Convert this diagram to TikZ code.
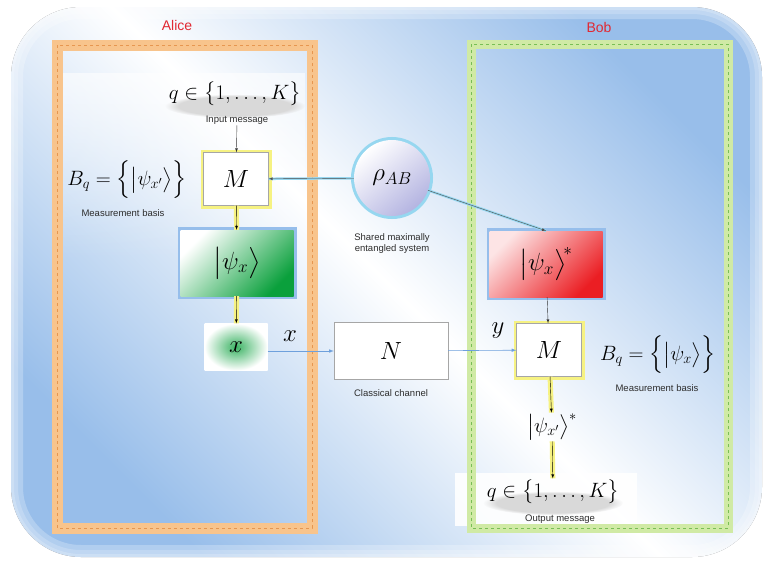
\documentclass[tikz,border=0pt]{standalone}
\usepackage{amsmath, amssymb}
\usepackage{fontspec}
\setsansfont{Liberation Sans}
\usepackage{tikz}
\usetikzlibrary{shapes, arrows, positioning, calc, fadings}
\definecolor{alicered}{RGB}{225, 40, 50}
\definecolor{frameorange}{RGB}{248, 196, 140}
\definecolor{dashorange}{RGB}{230, 150, 80}
\definecolor{framegreen}{RGB}{208, 234, 165}
\definecolor{dashgreen}{RGB}{120, 190, 85}
\definecolor{bgblue}{RGB}{152, 190, 234}
\definecolor{glowyellow}{RGB}{246, 242, 130}
\definecolor{glowblue}{RGB}{150, 190, 235}
\definecolor{stategreen}{RGB}{10, 160, 60}
\definecolor{statered}{RGB}{235, 30, 35}
\definecolor{chanblue}{RGB}{110, 160, 220}
\definecolor{rhocyan}{RGB}{150, 215, 240}
\definecolor{rholav}{RGB}{180, 180, 225}
\definecolor{labelgray}{RGB}{45, 45, 45}

\begin{document}
\begin{tikzpicture}[x=1pt, y=-1pt,
				mbox/.style={draw=gray!70, fill=white, minimum width=65pt, minimum height=53pt, preaction={draw=glowyellow, line width=6pt}, font=\fontsize{26}{30}\selectfont},
				statebox/.style={minimum width=113pt, minimum height=66pt, preaction={draw=glowblue, line width=6pt}, font=\fontsize{26}{30}\selectfont},
				fml/.style={inner sep=1pt, font=\fontsize{21}{25}\selectfont},
				lbl/.style={inner sep=1pt, align=center, text=labelgray, font=\sffamily\fontsize{9.5}{11}\selectfont},
				who/.style={text=alicered, font=\sffamily\fontsize{14}{16}\selectfont},
				flow/.style={-latex, black, thin, preaction={draw=glowyellow, line width=5pt, -}},
				plain/.style={-latex, black!80, thin},
				link/.style={-latex, black!70, thin, preaction={draw=rhocyan, line width=2.5pt, -}},
				chan/.style={-latex, chanblue, semithick}
			]
			\useasboundingbox (0,0) rectangle (765,565);

			% Background
			\fill[rounded corners=70pt, left color=bgblue, right color=bgblue, middle color=white, shading angle=135] (11,7) rectangle (762,557);
			\foreach \w/\o in {24/0.25, 14/0.2, 6/0.2}
				\draw[white, line width=\w pt, opacity=\o, rounded corners=70pt] (11,7) rectangle (762,557);
			\fill[white, opacity=0.6, path fading=south] (63,73) rectangle (305,260);
			\fill[white, opacity=0.9] (455,473) rectangle (637,526);
			\fill[gray!30, path fading=circle with fuzzy edge 20 percent] (235,106) ellipse (70pt and 12pt);
			\fill[gray!30, path fading=circle with fuzzy edge 20 percent] (553,503) ellipse (70pt and 12pt);

			% Frames
			\draw[frameorange, line width=11pt] (57,45) rectangle (312,528);
			\draw[dashorange, dashed, very thin] (57,45) rectangle (312,528);
			\draw[framegreen, line width=9pt] (471,44) rectangle (728,528);
			\draw[dashgreen, dashed, very thin] (471,44) rectangle (728,528);
			\node[who] (alice) at (177,25) {Alice};
			\node[who] (bob) at (599,27) {Bob};

			% Nodes
			\node[fml, font=\fontsize{20}{24}\selectfont] (qin) at (235,94) {$q\in\bigl\{1,\ldots,K\bigr\}$};
			\node[lbl] (inlbl) at (237,120) {Input message};
			\node[mbox] (ma) at (236,179) {$M$};
			\node[fml] (basisa) at (127,180) {$B_q=\Bigl\{\bigl|\psi_{x'}\bigr\rangle\Bigr\}$};
			\node[lbl] (measa) at (123,213) {Measurement basis};
			\node[statebox, left color=white, right color=stategreen, shading angle=45] (psia) at (237,263) {$\bigl|\psi_x\bigr\rangle$};
			\node[minimum width=63pt, minimum height=47pt, shading=radial, inner color=stategreen!80, outer color=white, font=\fontsize{28}{32}\selectfont] (xa) at (236,347) {$x$};
			\node[inner sep=0pt, font=\fontsize{28}{32}\selectfont] (xlbl) at (290,336) {$x$};

			\node[circle, minimum size=76pt, inner sep=0pt, left color=white, right color=rholav, shading angle=40, preaction={draw=rhocyan, line width=6pt}, font=\fontsize{26}{30}\selectfont] (rho) at (392,178) {$\rho_{AB}$};
			\node[lbl, below=16pt of rho] (rholbl) {Shared maximally\\entangled system};
			\node[draw=gray!70, fill=white, minimum width=114pt, minimum height=57pt, font=\fontsize{46}{50}\selectfont] (n) at (391,351) {$N$};
			\node[lbl, below=9pt of n] (nlbl) {Classical channel};

			\node[statebox, left color=statered!12, right color=statered, shading angle=45] (psib) at (546,264) {$\bigl|\psi_x\bigr\rangle^{\!*}$};
			\node[mbox] (mb) at (549,350) {$M$};
			\node[inner sep=0pt, font=\fontsize{28}{32}\selectfont] (ylbl) at (498,331) {$y$};
			\node[fml] (basisb) at (658,355) {$B_q=\Bigl\{\bigl|\psi_{x}\bigr\rangle\Bigr\}$};
			\node[lbl] (measb) at (657,388) {Measurement basis};
			\node[fml] (psiout) at (552,427) {$\bigl|\psi_{x'}\bigr\rangle^{*}$};
			\node[fml, font=\fontsize{20}{24}\selectfont] (qout) at (553,492) {$q\in\bigl\{1,\ldots,K\bigr\}$};
			\node[lbl] (outlbl) at (560,519) {Output message};

			% Arrows
			\draw[plain] (inlbl) -- (ma);
			\draw[link] (rho) -- (ma);
			\draw[link] (rho) -- (psib.north);
			\draw[flow] (ma) -- (psia);
			\draw[flow] (psia) -- (xa);
			\draw[chan] (xa.east |- n.west) -- (n.west);
			\draw[plain] (psib) -- (mb);
			\draw[chan] (n) -- (mb);
			\draw[flow] (mb) -- (psiout);
			\draw[flow] (psiout) -- (qout);

		\end{tikzpicture}
\end{document}
